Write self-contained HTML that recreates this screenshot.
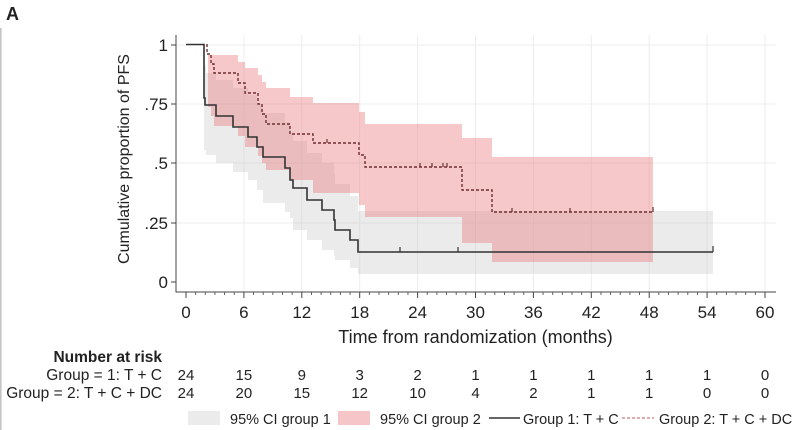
<!DOCTYPE html>
<html>
<head>
<meta charset="utf-8">
<style>
html,body{margin:0;padding:0;background:#fff;}
svg{display:block;}
text{font-family:"Liberation Sans",Arial,sans-serif;fill:#222;}
</style>
</head>
<body>
<svg width="800" height="430" viewBox="0 0 800 430" xmlns="http://www.w3.org/2000/svg">
<rect x="0" y="0" width="800" height="430" fill="#fff"/>
<line x1="0.8" y1="28" x2="0.8" y2="430" stroke="#c4c4c4" stroke-width="1.6"/>
<text x="6" y="20" font-size="18" font-weight="bold">A</text>

<!-- grid -->
<g stroke="#ececec" stroke-width="1">
<line x1="177" y1="45" x2="776" y2="45"/>
<line x1="177" y1="104" x2="776" y2="104"/>
<line x1="177" y1="163" x2="776" y2="163"/>
<line x1="177" y1="223" x2="776" y2="223"/>
<line x1="243.9" y1="35" x2="243.9" y2="291"/>
<line x1="301.8" y1="35" x2="301.8" y2="291"/>
<line x1="359.7" y1="35" x2="359.7" y2="291"/>
<line x1="417.6" y1="35" x2="417.6" y2="291"/>
<line x1="475.5" y1="35" x2="475.5" y2="291"/>
<line x1="533.4" y1="35" x2="533.4" y2="291"/>
<line x1="591.3" y1="35" x2="591.3" y2="291"/>
<line x1="649.2" y1="35" x2="649.2" y2="291"/>
<line x1="707.1" y1="35" x2="707.1" y2="291"/>
<line x1="765" y1="35" x2="765" y2="291"/>
</g>

<!-- CI group 1 (grey) -->
<path fill="rgba(200,200,200,0.36)" d="M204,66 H206 V73 H216 V80 H233 V88 H248 V95 H257 V104 H263 V113 H285 V122 H290 V134 H293 V141 H307 V153 H322 V163 H334 V174 H335 V184 H350 V196 H358 V211 H713 V274 H358 V268 H350 V260 H335 V256 H334 V250 H322 V240 H307 V230 H293 V218 H290 V212 H285 V203 H263 V190 H257 V180 H248 V172 H233 V163 H216 V155 H206 V150 H204 Z"/>

<!-- CI group 2 (pink) -->
<path fill="rgba(233,124,129,0.42)" d="M208,55 H238 V62 H245 V68 H258 V75 H262 V82 H266 V88 H290 V97 H313 V103 H359 V112 H365 V124 H462 V138 H492 V157 H653 V262 H492 V243 H462 V217 H365 V205 H359 V193 H313 V180 H290 V170 H266 V163 H262 V156 H258 V147 H245 V136 H238 V126 H214 V116 H211 V107 H208 Z"/>

<!-- group 2 dashed -->
<path fill="none" stroke="#6e2e30" stroke-width="1.4" stroke-dasharray="3,2" d="M207,44 V54 H211 V64 H214 V73 H238 V83 H245 V93 H258 V104 H262 V114 H266 V124 H290 V134 H313 V143 H359 V155 H365 V167 H462 V190 H492 V212 H653"/>
<g stroke="#6e2e30" stroke-width="1.2">
<line x1="327" y1="143" x2="327" y2="139"/>
<line x1="420" y1="167" x2="420" y2="163"/>
<line x1="432" y1="167" x2="432" y2="163"/>
<line x1="443" y1="167" x2="443" y2="163"/>
<line x1="447" y1="167" x2="447" y2="163"/>
<line x1="512" y1="212" x2="512" y2="208"/>
<line x1="570" y1="212" x2="570" y2="208"/>
<line x1="653" y1="212" x2="653" y2="207"/>
</g>

<!-- group 1 solid -->
<path fill="none" stroke="#333" stroke-width="1.6" d="M186,44.5 H204 V98 H205 V105 H216 V116 H233 V127 H248 V137 H257 V147 H263 V157 H285 V168 H290 V180 H293 V188 H307 V200 H322 V210 H334 V220 H335 V230 H350 V240 H358 V252 H713"/>
<g stroke="#333" stroke-width="1.2">
<line x1="400" y1="252" x2="400" y2="247"/>
<line x1="458" y1="252" x2="458" y2="247"/>
<line x1="713" y1="252" x2="713" y2="246"/>
</g>

<!-- axes -->
<g stroke="#444" stroke-width="1">
<line x1="176" y1="35" x2="176" y2="292.5"/>
<line x1="176" y1="292" x2="776" y2="292"/>
<line x1="171" y1="45" x2="176" y2="45"/>
<line x1="171" y1="104" x2="176" y2="104"/>
<line x1="171" y1="163" x2="176" y2="163"/>
<line x1="171" y1="223" x2="176" y2="223"/>
<line x1="171" y1="282" x2="176" y2="282"/>
</g>
<g stroke="#444" stroke-width="1">
<line x1="186" y1="292" x2="186" y2="298"/>
<line x1="243.9" y1="292" x2="243.9" y2="298"/>
<line x1="301.8" y1="292" x2="301.8" y2="298"/>
<line x1="359.7" y1="292" x2="359.7" y2="298"/>
<line x1="417.6" y1="292" x2="417.6" y2="298"/>
<line x1="475.5" y1="292" x2="475.5" y2="298"/>
<line x1="533.4" y1="292" x2="533.4" y2="298"/>
<line x1="591.3" y1="292" x2="591.3" y2="298"/>
<line x1="649.2" y1="292" x2="649.2" y2="298"/>
<line x1="707.1" y1="292" x2="707.1" y2="298"/>
<line x1="765" y1="292" x2="765" y2="298"/>
</g>
<path stroke="#555" stroke-width="0.9" fill="none" d="M195.65,292v3 M205.3,292v3 M214.95,292v3 M224.6,292v3 M234.25,292v3 M253.55,292v3 M263.2,292v3 M272.85,292v3 M282.5,292v3 M292.15,292v3 M311.45,292v3 M321.1,292v3 M330.75,292v3 M340.4,292v3 M350.05,292v3 M369.35,292v3 M379,292v3 M388.65,292v3 M398.3,292v3 M407.95,292v3 M427.25,292v3 M436.9,292v3 M446.55,292v3 M456.2,292v3 M465.85,292v3 M485.15,292v3 M494.8,292v3 M504.45,292v3 M514.1,292v3 M523.75,292v3 M543.05,292v3 M552.7,292v3 M562.35,292v3 M572,292v3 M581.65,292v3 M600.95,292v3 M610.6,292v3 M620.25,292v3 M629.9,292v3 M639.55,292v3 M658.85,292v3 M668.5,292v3 M678.15,292v3 M687.8,292v3 M697.45,292v3 M716.75,292v3 M726.4,292v3 M736.05,292v3 M745.7,292v3 M755.35,292v3"/>

<!-- y tick labels -->
<g font-size="17" text-anchor="end">
<text x="168" y="51">1</text>
<text x="168" y="110">.75</text>
<text x="168" y="169">.5</text>
<text x="168" y="229">.25</text>
<text x="168" y="288">0</text>
</g>
<text transform="translate(129,159) rotate(-90)" font-size="16" text-anchor="middle">Cumulative proportion of PFS</text>

<!-- x tick labels -->
<g font-size="17" text-anchor="middle">
<text x="186" y="318">0</text>
<text x="243.9" y="318">6</text>
<text x="301.8" y="318">12</text>
<text x="359.7" y="318">18</text>
<text x="417.6" y="318">24</text>
<text x="475.5" y="318">30</text>
<text x="533.4" y="318">36</text>
<text x="591.3" y="318">42</text>
<text x="649.2" y="318">48</text>
<text x="707.1" y="318">54</text>
<text x="765" y="318">60</text>
</g>
<text x="475.5" y="343" font-size="18" text-anchor="middle">Time from randomization (months)</text>

<!-- risk table -->
<text x="162" y="362" font-size="15.5" font-weight="bold" text-anchor="end">Number at risk</text>
<text x="162" y="380" font-size="15.5" text-anchor="end">Group = 1: T + C</text>
<text x="162" y="398" font-size="15.5" text-anchor="end">Group = 2: T + C + DC</text>
<g font-size="15" text-anchor="middle">
<text x="186" y="380">24</text>
<text x="243.9" y="380">15</text>
<text x="301.8" y="380">9</text>
<text x="359.7" y="380">3</text>
<text x="417.6" y="380">2</text>
<text x="475.5" y="380">1</text>
<text x="533.4" y="380">1</text>
<text x="591.3" y="380">1</text>
<text x="649.2" y="380">1</text>
<text x="707.1" y="380">1</text>
<text x="765" y="380">0</text>
<text x="186" y="398">24</text>
<text x="243.9" y="398">20</text>
<text x="301.8" y="398">15</text>
<text x="359.7" y="398">12</text>
<text x="417.6" y="398">10</text>
<text x="475.5" y="398">4</text>
<text x="533.4" y="398">2</text>
<text x="591.3" y="398">1</text>
<text x="649.2" y="398">1</text>
<text x="707.1" y="398">0</text>
<text x="765" y="398">0</text>
</g>

<!-- legend -->
<rect x="188" y="411" width="32" height="14" fill="#ebebeb"/>
<text x="230" y="424" font-size="14.5">95% CI group 1</text>
<rect x="338" y="411" width="32" height="14" fill="#f5c5c7"/>
<text x="380" y="424" font-size="14.5">95% CI group 2</text>
<line x1="489" y1="418" x2="520" y2="418" stroke="#333" stroke-width="1.5"/>
<text x="523" y="424" font-size="14.5">Group 1: T + C</text>
<line x1="622" y1="418" x2="654" y2="418" stroke="#c97a7d" stroke-width="1.3" stroke-dasharray="3,2"/>
<text x="659" y="424" font-size="14.5">Group 2: T + C + DC</text>
</svg>
</body>
</html>
